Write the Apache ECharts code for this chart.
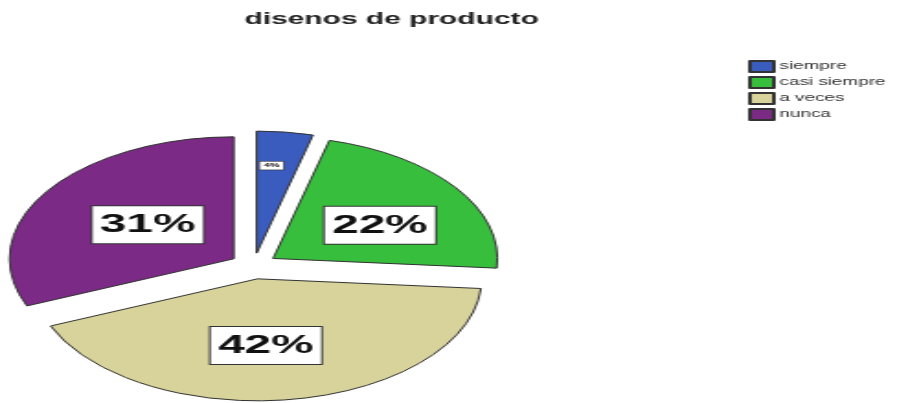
<!DOCTYPE html>
<html>
<head>
<meta charset="utf-8">
<script src="https://cdn.jsdelivr.net/npm/echarts@6/dist/echarts.min.js"></script>
<style>
  html, body { margin: 0; padding: 0; background: #fff; overflow: hidden; }
  #wrap { width: 897px; height: 403px; overflow: hidden; }
  /* chart is laid out narrow and widened horizontally */
  #chart { width: 488px; height: 403px; transform: scaleX(1.838); transform-origin: 0 0; }
</style>
</head>
<body>
<div id="wrap"><div id="chart"></div></div>
<script>
const titleText = 'disenos de producto';
const categories = ['siempre', 'casi siempre', 'a veces', 'nunca'];
const percents = [4, 22, 42, 31];
const colors = ['#3b5cbf', '#37be3d', '#d8d39b', '#7b2a86'];

// small nudges for the value boxes, per slice
const labelShift = [[0, -24], [6, 4], [-5.5, 3.5], [6.5, 1.5]];

const chart = echarts.init(document.getElementById('chart'));

const data = categories.map((name, i) => ({
  name: name,
  value: percents[i],
  selected: true,
  itemStyle: { color: colors[i] },
  label: i === 0
    ? { fontSize: 6, padding: [1, 2, 1, 2], borderWidth: 0.6 }
    : {}
}));

chart.setOption({
  backgroundColor: '#ffffff',
  animation: false,
  title: {
    text: titleText,
    left: 128,
    top: 7,
    textStyle: { fontFamily: 'Liberation Sans, Arial, sans-serif', fontSize: 16.3, fontWeight: 'bold', color: '#222' }
  },
  legend: {
    orient: 'vertical',
    left: 402,
    top: 55,
    itemWidth: 13,
    itemHeight: 11,
    itemGap: 3,
    icon: 'rect',
    data: categories,
    textStyle: { fontFamily: 'Liberation Sans, Arial, sans-serif', fontSize: 10.3, color: '#333', padding: [0, 0, 0, -2] }
  },
  series: [{
    type: 'pie',
    center: [138, 266],
    radius: 122,
    startAngle: 90,
    clockwise: true,
    selectedMode: 'multiple',
    selectedOffset: 13,
    silent: true,
    emphasis: { disabled: true },
    itemStyle: { borderColor: '#333', borderWidth: 1 },
    label: {
      show: true,
      position: 'inside',
      formatter: '{c}%',
      fontFamily: 'Liberation Sans, Arial, sans-serif',
      fontSize: 26,
      fontWeight: 'bold',
      color: '#111',
      backgroundColor: '#ffffff',
      borderColor: '#333',
      borderWidth: 1,
      padding: [6, 4, 5, 4]
    },
    labelLayout: function (params) {
      const s = labelShift[params.dataIndex];
      return { dx: s[0], dy: s[1] };
    },
    labelLine: { show: false },
    data: data
  }]
});
</script>
</body>
</html>
